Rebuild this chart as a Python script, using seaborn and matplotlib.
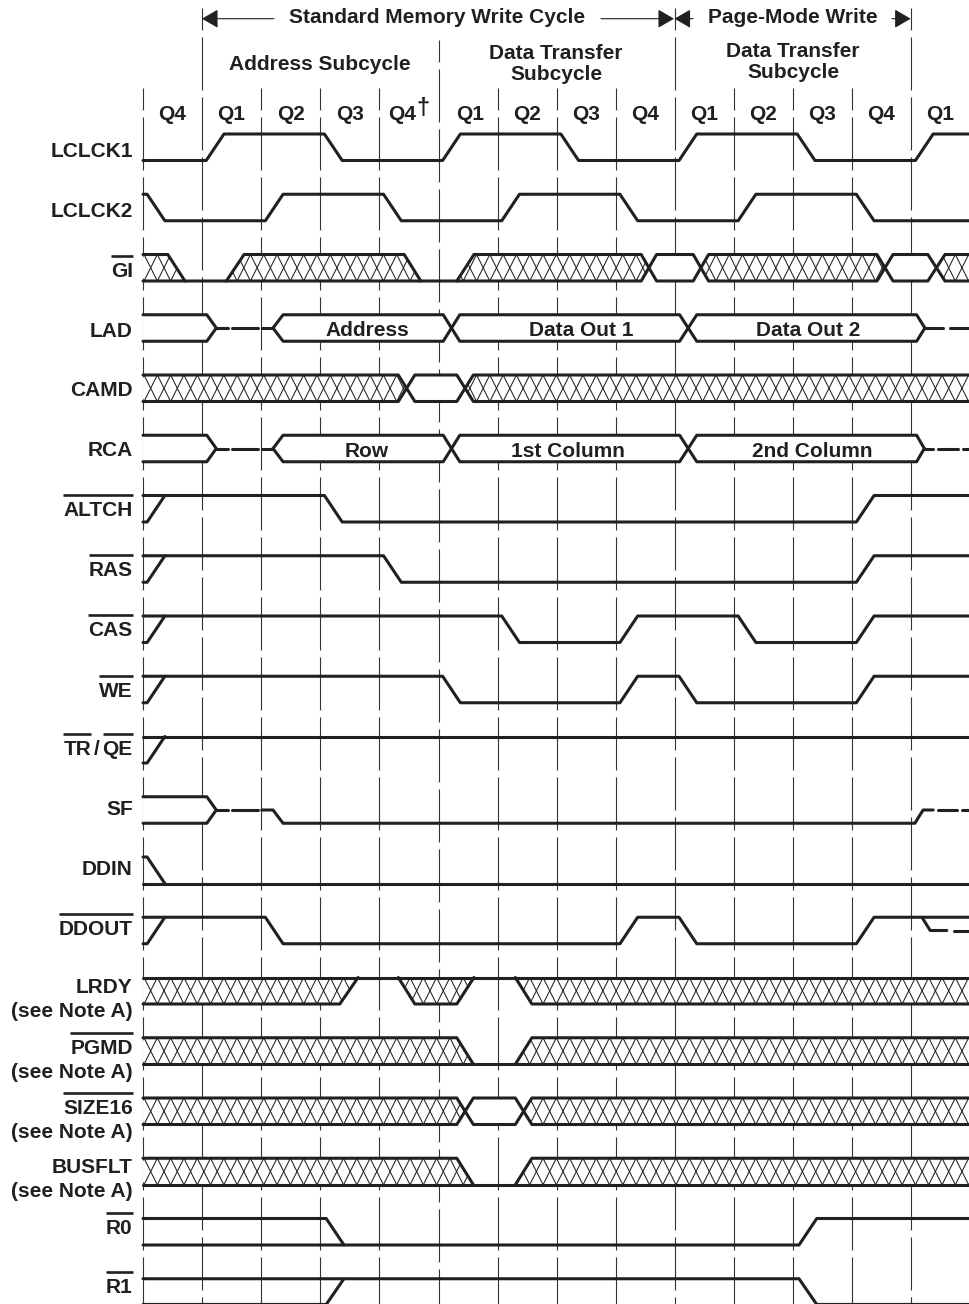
import matplotlib
matplotlib.use("Agg")
import matplotlib.pyplot as plt
import numpy as np
import pandas as pd
import seaborn as sns
from matplotlib.collections import LineCollection
from matplotlib.patches import Polygon

# time is in quarter cycles from the left edge, level 1 = high, 0 = low, .5 = float
END = 14.1

QUARTER_LABELS = ["Q4", "Q1", "Q2", "Q3", "Q4", "Q1", "Q2", "Q3", "Q4", "Q1", "Q2", "Q3", "Q4", "Q1"]
QUARTER_CENTERS = [172, 231, 291, 350, 402, 470, 527, 586, 645, 704, 763, 822, 881, 940]

ROW_LABELS = ["LCLCK1", "LCLCK2", "GI", "LAD", "CAMD", "RCA", "ALTCH", "RAS", "CAS", "WE",
              "TR/QE", "SF", "DDIN", "DDOUT", "LRDY", "PGMD", "SIZE16", "BUSFLT", "R0", "R1"]
LABEL_BASELINES = [157, 217, 277, 337, 396, 456, 516, 576, 636, 697,
                   755, 815, 875, 935, 993, 1054, 1114, 1173, 1234, 1293]
OVERLINED = ["GI", "ALTCH", "RAS", "CAS", "WE", "DDOUT", "PGMD", "SIZE16", "R0", "R1"]
NOTE_ROWS = ["LRDY", "PGMD", "SIZE16", "BUSFLT"]

LCLCK1 = [[(0, 0), (1.07, 0), (1.37, 1), (3.07, 1), (3.37, 0), (5.07, 0), (5.37, 1), (7.07, 1),
           (7.37, 0), (9.07, 0), (9.37, 1), (11.07, 1), (11.37, 0), (13.07, 0), (13.37, 1), (END, 1)]]
LCLCK2 = [[(0, 1), (0.07, 1), (0.37, 0), (2.07, 0), (2.37, 1), (4.07, 1), (4.37, 0), (6.07, 0),
           (6.37, 1), (8.07, 1), (8.37, 0), (10.07, 0), (10.37, 1), (12.07, 1), (12.37, 0), (END, 0)]]
GI = [[(0, 1), (0.42, 1), (0.71, 0)],
      [(0, 0), (8.43, 0), (8.69, 1), (9.31, 1), (9.57, 0), (12.42, 0), (12.69, 1), (13.28, 1), (13.57, 0), (END, 0)],
      [(1.41, 0), (1.71, 1), (4.42, 1), (4.70, 0)],
      [(5.31, 0), (5.60, 1), (8.43, 1), (8.69, 0), (9.31, 0), (9.57, 1), (12.42, 1), (12.69, 0), (13.28, 0), (13.57, 1), (END, 1)]]
LAD = [[(0, 1), (1.08, 1), (1.24, 0.5), (1.08, 0), (0, 0)],
       [(1.24, 0.5), (1.43, 0.5)], [(1.51, 0.5), (1.95, 0.5)], [(2.01, 0.5), (2.2, 0.5)],
       [(2.2, 0.5), (2.37, 1), (5.08, 1), (5.36, 0), (9.08, 0), (9.37, 1), (13.09, 1), (13.23, 0.5)],
       [(2.2, 0.5), (2.37, 0), (5.08, 0), (5.36, 1), (9.08, 1), (9.37, 0), (13.09, 0), (13.23, 0.5)],
       [(13.23, 0.5), (13.54, 0.5)], [(13.66, 0.5), (END, 0.5)]]
CAMD = [[(0, 1), (4.32, 1), (4.6, 0), (5.31, 0), (5.59, 1), (END, 1)],
        [(0, 0), (4.32, 0), (4.6, 1), (5.31, 1), (5.59, 0), (END, 0)]]
RCA = [[(0, 1), (1.08, 1), (1.24, 0.5), (1.08, 0), (0, 0)],
       [(1.24, 0.5), (1.43, 0.5)], [(1.51, 0.5), (1.95, 0.5)], [(2.01, 0.5), (2.2, 0.5)],
       [(2.2, 0.5), (2.37, 1), (5.08, 1), (5.36, 0), (9.08, 0), (9.37, 1), (13.09, 1), (13.22, 0.5)],
       [(2.2, 0.5), (2.37, 0), (5.08, 0), (5.36, 1), (9.08, 1), (9.37, 0), (13.09, 0), (13.22, 0.5)],
       [(13.22, 0.5), (13.37, 0.5)], [(13.45, 0.5), (13.79, 0.5)], [(13.87, 0.5), (END, 0.5)]]
ALTCH = [[(0, 0), (0.07, 0), (0.37, 1)],
         [(0, 1), (3.07, 1), (3.37, 0), (12.07, 0), (12.37, 1), (END, 1)]]
RAS = [[(0, 0), (0.07, 0), (0.37, 1)],
       [(0, 1), (4.07, 1), (4.37, 0), (12.07, 0), (12.37, 1), (END, 1)]]
CAS = [[(0, 0), (0.07, 0), (0.37, 1)],
       [(0, 1), (6.07, 1), (6.37, 0), (8.07, 0), (8.37, 1), (10.07, 1), (10.37, 0), (12.07, 0), (12.37, 1), (END, 1)]]
WE = [[(0, 0), (0.07, 0), (0.37, 1)],
      [(0, 1), (5.07, 1), (5.37, 0), (8.07, 0), (8.37, 1), (9.07, 1), (9.37, 0), (12.07, 0), (12.37, 1), (END, 1)]]
TR_QE = [[(0, 0), (0.07, 0), (0.37, 1)], [(0, 1), (END, 1)]]
SF = [[(0, 1), (1.08, 1), (1.24, 0.5), (1.08, 0), (0, 0)],
      [(1.24, 0.5), (1.43, 0.5)], [(1.51, 0.5), (1.95, 0.5)],
      [(2.01, 0.5), (2.2, 0.5), (2.37, 0), (13.06, 0), (13.2, 0.5), (13.37, 0.5)],
      [(13.45, 0.5), (13.77, 0.5)], [(13.85, 0.5), (END, 0.5)]]
DDIN = [[(0, 1), (0.07, 1), (0.37, 0)], [(0, 0), (END, 0)]]
DDOUT = [[(0, 0), (0.07, 0), (0.37, 1)],
         [(0, 1), (2.07, 1), (2.37, 0), (8.07, 0), (8.37, 1), (9.07, 1), (9.37, 0), (12.07, 0), (12.37, 1), (END, 1)],
         [(13.18, 1), (13.32, 0.5), (13.6, 0.5)], [(13.73, 0.5), (END, 0.5)]]
LRDY = [[(0, 1), (END, 1)],
        [(0, 0), (3.33, 0), (3.64, 1)],
        [(4.32, 1), (4.6, 0), (5.31, 0), (5.6, 1)],
        [(6.3, 1), (6.58, 0), (END, 0)]]
PGMD = [[(0, 0), (END, 0)],
        [(0, 1), (5.31, 1), (5.59, 0)],
        [(6.3, 0), (6.58, 1), (END, 1)]]
SIZE16 = [[(0, 1), (5.31, 1), (5.59, 0), (6.3, 0), (6.58, 1), (END, 1)],
          [(0, 0), (5.31, 0), (5.59, 1), (6.3, 1), (6.58, 0), (END, 0)]]
BUSFLT = [[(0, 0), (END, 0)],
          [(0, 1), (5.31, 1), (5.59, 0)],
          [(6.3, 0), (6.58, 1), (END, 1)]]
R0 = [[(0, 1), (3.1, 1), (3.4, 0)], [(0, 0), (11.1, 0), (11.4, 1), (END, 1)]]
# low level of R1 sits right on the bottom edge of the page
R1 = [[(0, 1), (11.1, 1), (11.4, 0.03), (END, 0.03)], [(0, 0.03), (3.1, 0.03), (3.4, 1)]]

ROW_PATHS = [LCLCK1, LCLCK2, GI, LAD, CAMD, RCA, ALTCH, RAS, CAS, WE,
             TR_QE, SF, DDIN, DDOUT, LRDY, PGMD, SIZE16, BUSFLT, R0, R1]

# hatched (don't care) regions
GI_HATCH = [[(0, 0), (0, 1), (0.42, 1), (0.71, 0)],
            [(1.41, 0), (1.71, 1), (4.42, 1), (4.70, 0)],
            [(5.31, 0), (5.60, 1), (8.43, 1), (8.56, 0.5), (8.43, 0)],
            [(9.44, 0.5), (9.57, 1), (12.42, 1), (12.56, 0.5), (12.42, 0), (9.57, 0)],
            [(13.43, 0.5), (13.57, 1), (END, 1), (END, 0), (13.57, 0)]]
CAMD_HATCH = [[(0, 0), (0, 1), (4.32, 1), (4.46, 0.5), (4.32, 0)],
              [(5.45, 0.5), (5.59, 1), (END, 1), (END, 0), (5.59, 0)]]
LRDY_HATCH = [[(0, 0), (0, 1), (3.64, 1), (3.33, 0)],
              [(4.32, 1), (4.6, 0), (5.31, 0), (5.6, 1)],
              [(6.3, 1), (6.58, 0), (END, 0), (END, 1)]]
PGMD_HATCH = [[(0, 0), (0, 1), (5.31, 1), (5.59, 0)],
              [(6.3, 0), (6.58, 1), (END, 1), (END, 0)]]
SIZE16_HATCH = [[(0, 0), (0, 1), (5.31, 1), (5.45, 0.5), (5.31, 0)],
                [(6.44, 0.5), (6.58, 1), (END, 1), (END, 0), (6.58, 0)]]
BUSFLT_HATCH = [[(0, 0), (0, 1), (5.31, 1), (5.59, 0)],
                [(6.3, 0), (6.58, 1), (END, 1), (END, 0)]]
HATCHED = {"GI": GI_HATCH, "CAMD": CAMD_HATCH, "LRDY": LRDY_HATCH,
           "PGMD": PGMD_HATCH, "SIZE16": SIZE16_HATCH, "BUSFLT": BUSFLT_HATCH}

# open bus regions, plain white so the clock lines don't show through
BUS_BOXES = [[(0, 0), (0, 1), (1.08, 1), (1.24, 0.5), (1.08, 0)],
             [(2.2, 0.5), (2.37, 1), (5.08, 1), (5.22, 0.5), (5.08, 0), (2.37, 0)],
             [(5.22, 0.5), (5.36, 1), (9.08, 1), (9.22, 0.5), (9.08, 0), (5.36, 0)],
             [(9.22, 0.5), (9.37, 1), (13.09, 1), (13.23, 0.5), (13.09, 0), (9.37, 0)]]
BLANKS = {"LAD": BUS_BOXES, "RCA": BUS_BOXES, "SF": BUS_BOXES[:1],
          "CAMD": [[(4.46, 0.5), (4.6, 1), (5.31, 1), (5.45, 0.5), (5.31, 0), (4.6, 0)]],
          "GI": [[(8.56, 0.5), (8.69, 1), (9.31, 1), (9.44, 0.5), (9.31, 0), (8.69, 0)],
                 [(12.56, 0.5), (12.69, 1), (13.28, 1), (13.43, 0.5), (13.28, 0), (12.69, 0)]],
          "SIZE16": [[(5.45, 0.5), (5.59, 1), (6.3, 1), (6.44, 0.5), (6.3, 0), (5.59, 0)]]}

GRID_TOPS = [88, 8, 88, 88, 88, 40, 88, 88, 88, 8, 88, 88, 88, 8]

WIDTH, HEIGHT = 969, 1304
X0, DX = 143.0, 59.1
Y0, DY = 134.0, 60.25
LEVEL_H = 26.5 / DY
INK = "#231f20"

sns.set_theme(style="white")
plt.rcParams["font.family"] = ["Liberation Sans", "DejaVu Sans"]
plt.rcParams["lines.scale_dashes"] = False


def qx(px):
    return (px - X0) / DX


def ry(py):
    return (py - Y0) / DY


def level_y(row, level):
    return row + (1 - level) * LEVEL_H


def label(ax, px, py, text, ha="center", size=15):
    return ax.text(qx(px), ry(py), text, ha=ha, va="baseline", fontsize=size,
                   fontweight="bold", color=INK)


def overline(fig, ax, artist, py):
    box = artist.get_window_extent(fig.canvas.get_renderer())
    inv = ax.transData.inverted()
    x1 = inv.transform((box.x0, box.y0))[0]
    x2 = inv.transform((box.x1, box.y0))[0]
    ax.plot([x1, x2], [ry(py), ry(py)], color=INK, lw=1.9, solid_capstyle="butt")


def header_arrow(ax, tip, tail, py=18.7):
    ax.annotate("", xy=(qx(tip), ry(py)), xytext=(qx(tail), ry(py)),
                arrowprops=dict(arrowstyle="-|>,head_length=1.0,head_width=0.58", mutation_scale=10,
                                shrinkA=0, shrinkB=0, lw=0.8, color=INK))


rows = []
for r, paths in enumerate(ROW_PATHS):
    for p, path in enumerate(paths):
        for q, lev in path:
            rows.append({"path": f"{r}-{p}", "q": q, "y": level_y(r, lev)})
waves = pd.DataFrame(rows)

grid = pd.DataFrame(
    [{"line": i, "q": i, "y": ry(top)} for i, top in enumerate(GRID_TOPS)]
    + [{"line": i, "q": i, "y": ry(HEIGHT + 2)} for i in range(len(GRID_TOPS))]
)

fig = plt.figure(figsize=(WIDTH / 100, HEIGHT / 100), dpi=100)
ax = fig.add_axes([0, 0, 1, 1])

# clock lines, about 53 px on, 7 px off (dash lengths in points)
sns.lineplot(data=grid, x="q", y="y", units="line", estimator=None, sort=False,
             color="#333333", lw=0.8, linestyle=(22.4, (38.2, 5.0)), zorder=1, legend=False, ax=ax)

for name, polys in BLANKS.items():
    r = ROW_LABELS.index(name)
    for poly in polys:
        ax.add_patch(Polygon([(q, level_y(r, lev)) for q, lev in poly], closed=True,
                             facecolor="white", edgecolor="none", zorder=2))

period = 13.3 / DX
for name, polys in HATCHED.items():
    r = ROW_LABELS.index(name)
    starts = np.arange(0.13 - period / 2 - period, END + period, period)
    segs = []
    for s in starts:
        segs.append([(s, level_y(r, 1)), (s + period, level_y(r, 0))])
        segs.append([(s, level_y(r, 0)), (s + period, level_y(r, 1))])
    for poly in polys:
        patch = Polygon([(q, level_y(r, lev)) for q, lev in poly], closed=True,
                        facecolor="white", edgecolor="none", zorder=2)
        ax.add_patch(patch)
        lc = LineCollection(segs, colors=INK, linewidths=0.75, zorder=2.5)
        ax.add_collection(lc)
        lc.set_clip_path(patch)

sns.lineplot(data=waves, x="q", y="y", units="path", estimator=None, sort=False,
             color=INK, lw=2.2, zorder=3, legend=False, ax=ax)

ax.set_xlim(qx(0), qx(WIDTH))
ax.set_ylim(ry(HEIGHT), ry(0))
ax.axis("off")

fig.canvas.draw()

for name, base in zip(ROW_LABELS, LABEL_BASELINES):
    if name == "TR/QE":
        tr = label(ax, 91, base, "TR", ha="right")
        label(ax, 96.5, base, "/")
        qe = label(ax, 132.7, base, "QE", ha="right")
        overline(fig, ax, tr, base - 21)
        overline(fig, ax, qe, base - 21)
        continue
    txt = label(ax, 132.7, base, name, ha="right")
    if name in OVERLINED:
        overline(fig, ax, txt, base - 21)
    if name in NOTE_ROWS:
        label(ax, 133, base + 24, "(see Note A)", ha="right")

for text, px in zip(QUARTER_LABELS, QUARTER_CENTERS):
    label(ax, px, 120, text)
label(ax, 423, 115, "†", size=17)

label(ax, 437.5, 23, "Standard Memory Write Cycle")
label(ax, 793, 23, "Page-Mode Write")
label(ax, 320, 70, "Address Subcycle")
label(ax, 556, 59, "Data Transfer")
label(ax, 556, 80, "Subcycle")
label(ax, 793, 57, "Data Transfer")
label(ax, 793, 78, "Subcycle")

label(ax, 367, 336, "Address")
label(ax, 581, 336, "Data Out 1")
label(ax, 808.5, 336, "Data Out 2")
label(ax, 367, 457, "Row")
label(ax, 568, 457, "1st Column")
label(ax, 812, 457, "2nd Column")

header_arrow(ax, 202, 274)
header_arrow(ax, 674, 601)
header_arrow(ax, 674.5, 693)
header_arrow(ax, 910.7, 892)

fig.savefig("out.png", dpi=100, facecolor="white")
